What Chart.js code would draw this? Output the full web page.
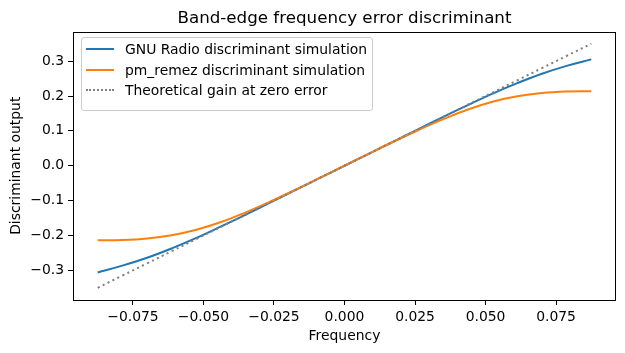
<!DOCTYPE html>
<html>
<head>
<meta charset="utf-8">
<script src="https://cdn.jsdelivr.net/npm/chart.js@4/dist/chart.umd.min.js"></script>
<style>
  body { margin: 0; background: #fff; }
  #wrap { position: relative; width: 625px; height: 353px; }
  #title {
    position: absolute; left: 144.5px; width: 400px; top: 7px; text-align: center;
    font-family: 'DejaVu Sans', sans-serif; font-size: 16.7px; line-height: 20px; color: #000; white-space: nowrap;
  }
  #legend {
    position: absolute; left: 81px; top: 37px; width: 292px; height: 74px;
    border: 1px solid #cccccc; border-radius: 3px; background: rgba(255,255,255,0.8);
    box-sizing: border-box; font-family: 'DejaVu Sans', sans-serif; font-size: 13.9px; color: #000;
  }
  .row { position: absolute; left: 0; height: 20px; display: flex; align-items: center; }
  .swatch { display: inline-block; width: 28px; margin-left: 4px; margin-right: 11px; }
  .row span.txt { white-space: nowrap; }
</style>
</head>
<body>
<div id="wrap">
  <canvas id="chart" width="625" height="353"></canvas>
  <div id="title">Band-edge frequency error discriminant</div>
  <div id="legend"></div>
</div>
<script>
// ---- dados ----
const FREQ = [-0.0875, -0.07875, -0.07, -0.06125, -0.0525, -0.04375, -0.035, -0.02625, -0.0175, -0.00875, 0,
  0.00875, 0.0175, 0.02625, 0.035, 0.04375, 0.0525, 0.06125, 0.07, 0.07875, 0.0875];
const GNU_RADIO = [-0.306, -0.2865, -0.264, -0.237, -0.207, -0.174, -0.14, -0.105, -0.07, -0.035, 0,
  0.035, 0.07, 0.105, 0.14, 0.174, 0.207, 0.237, 0.264, 0.2865, 0.305];
const PM_REMEZ = [-0.214, -0.213, -0.2085, -0.199, -0.1835, -0.1615, -0.1335, -0.1025, -0.0695, -0.035, 0,
  0.035, 0.0695, 0.1025, 0.1335, 0.1615, 0.1835, 0.199, 0.2085, 0.213, 0.214];
const THEORY = [-0.35, -0.315, -0.28, -0.245, -0.21, -0.175, -0.14, -0.105, -0.07, -0.035, 0,
  0.035, 0.07, 0.105, 0.14, 0.175, 0.21, 0.245, 0.28, 0.315, 0.35];

const X_TICKS = [-0.075, -0.05, -0.025, 0, 0.025, 0.05, 0.075];
const Y_TICKS = [-0.3, -0.2, -0.1, 0, 0.1, 0.2, 0.3];

const SERIES_LABELS = ['GNU Radio discriminant simulation', 'pm_remez discriminant simulation', 'Theoretical gain at zero error'];
const SERIES_COLORS = ['#1f77b4', '#ff7f0e', '#808080'];

const FONT = "'DejaVu Sans', sans-serif";

function fmt(v, digits) {
  const s = Math.abs(v).toFixed(digits);
  return (v < -1e-12 ? '\u2212' : '') + s;
}

function points(ys) {
  return FREQ.map((x, i) => ({ x: x, y: ys[i] }));
}

// moldura (spines) em volta da área do gráfico
const framePlugin = {
  id: 'frame',
  afterDatasetsDraw(chart) {
    const a = chart.chartArea;
    const ctx = chart.ctx;
    ctx.save();
    ctx.strokeStyle = '#000';
    ctx.lineWidth = 1;
    ctx.strokeRect(Math.round(a.left) + 0.5, Math.round(a.top) + 0.5,
      Math.round(a.right - a.left) - 1, Math.round(a.bottom - a.top) - 1);
    ctx.restore();
  }
};

const axisCommon = {
  type: 'linear',
  border: { display: false },
  grid: { display: true, drawOnChartArea: false, drawTicks: true, tickLength: 5, tickColor: '#000', tickWidth: 1 },
};

new Chart(document.getElementById('chart'), {
  type: 'line',
  data: {
    datasets: [
      { label: SERIES_LABELS[0], data: points(GNU_RADIO), borderColor: SERIES_COLORS[0], borderWidth: 2, order: 3 },
      { label: SERIES_LABELS[1], data: points(PM_REMEZ), borderColor: SERIES_COLORS[1], borderWidth: 2, order: 2 },
      { label: SERIES_LABELS[2], data: points(THEORY), borderColor: SERIES_COLORS[2], borderWidth: 2, borderDash: [2.1, 3.4], order: 1 }
    ]
  },
  options: {
    responsive: false,
    animation: false,
    layout: { padding: { left: 0, right: 9, top: 31.5, bottom: 0 } },
    elements: {
      point: { radius: 0 },
      line: { tension: 0.4, fill: false }
    },
    plugins: {
      legend: { display: false },
      tooltip: { enabled: false },
      title: { display: false }
    },
    scales: {
      x: {
        ...axisCommon,
        min: -0.09625, max: 0.09625,
        afterBuildTicks: s => { s.ticks = X_TICKS.map(v => ({ value: v })); },
        afterFit: s => { s.height = 53; },
        ticks: { color: '#000', padding: 4, maxRotation: 0, font: { family: FONT, size: 13.9 }, callback: v => fmt(v, 3) },
        title: { display: true, text: 'Frequency', color: '#000', font: { family: FONT, size: 13.9 }, padding: { top: 0, bottom: 8 } }
      },
      y: {
        ...axisCommon,
        min: -0.385, max: 0.385,
        afterBuildTicks: s => { s.ticks = Y_TICKS.map(v => ({ value: v })); },
        afterFit: s => { s.width = 73; },
        ticks: { color: '#000', padding: 4, font: { family: FONT, size: 13.9 }, callback: v => fmt(v, 1) },
        title: { display: true, text: 'Discriminant output', color: '#000', font: { family: FONT, size: 13.9 }, padding: { top: 8, bottom: 0 } }
      }
    }
  },
  plugins: [framePlugin]
});

// legenda em HTML (texto real)
const legend = document.getElementById('legend');
const ROW_TOPS = [1, 22, 42];
SERIES_LABELS.forEach((label, i) => {
  const row = document.createElement('div');
  row.className = 'row';
  row.style.top = ROW_TOPS[i] + 'px';
  const sw = document.createElement('span');
  sw.className = 'swatch';
  sw.style.borderTop = i === 2 ? '2px dotted ' + SERIES_COLORS[i] : '2px solid ' + SERIES_COLORS[i];
  const txt = document.createElement('span');
  txt.className = 'txt';
  txt.textContent = label;
  row.appendChild(sw);
  row.appendChild(txt);
  legend.appendChild(row);
});
</script>
</body>
</html>
